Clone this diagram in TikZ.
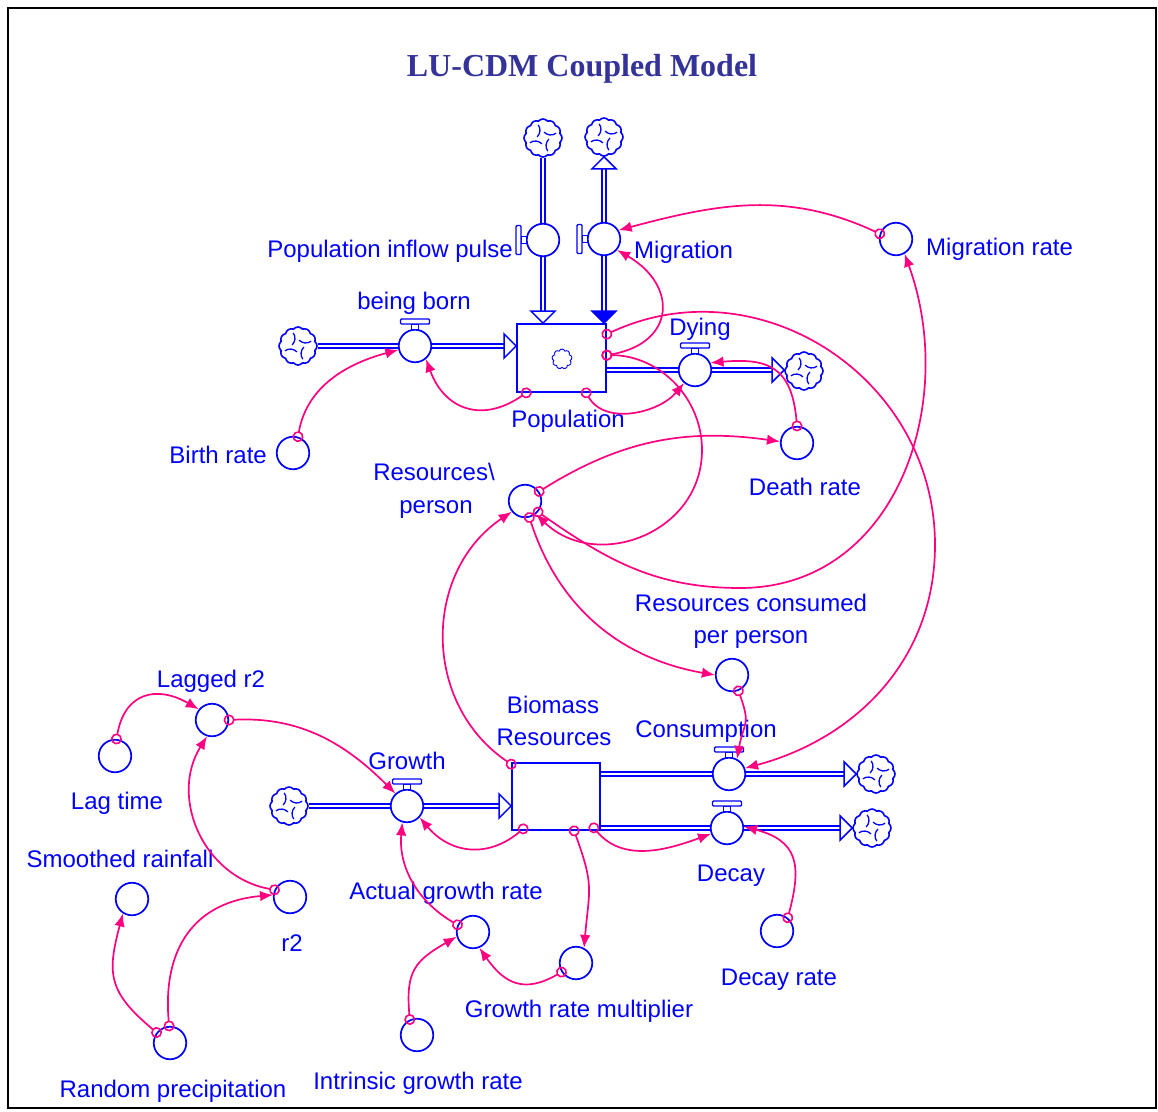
\documentclass[tikz,border=0pt]{standalone}
\usepackage{fontspec}
\setmainfont{Liberation Sans}
\newfontfamily\titlefont{Liberation Serif}
\usetikzlibrary{arrows.meta,shapes.symbols,calc,backgrounds}
\definecolor{vblue}{RGB}{0,0,255}
\definecolor{vpink}{RGB}{255,0,128}
\definecolor{vtitle}{RGB}{51,51,153}
\newcommand\phead[3][white]{\draw[pipehd, fill=#1, shift={(#2)}, rotate=#3] (0,0) -- (-12,12) -- (-12,-12) -- cycle;}
\newcommand\hhandle[1]{%
  \draw[handle] ([shift={(-3.5,-22)}]#1.center) rectangle ([shift={(3.5,-16.5)}]#1.center);
  \draw[handle, rounded corners=1pt] ([shift={(-14.5,-27)}]#1.center) rectangle ([shift={(14.5,-22)}]#1.center);}
\newcommand\vhandle[1]{%
  \draw[handle] ([shift={(-22,-3.5)}]#1.center) rectangle ([shift={(-16.5,3.5)}]#1.center);
  \draw[handle, rounded corners=1pt] ([shift={(-27,-14.5)}]#1.center) rectangle ([shift={(-22,14.5)}]#1.center);}
\newcommand\cloudnode[2]{%
  \node[cloudy] (#1) at (#2) {};
  \foreach \a in {20,110,200,290}{\draw[vblue,line width=1.3pt] ($(#1.center)+(\a:14pt)$) to[bend left=40] ($(#1.center)+(\a+60:6pt)$);}}
\begin{document}
\begin{tikzpicture}[x=1pt,y=-1pt,
  lbl/.style={text=vblue, font=\fontsize{24}{28}\selectfont, inner sep=0pt, anchor=base},
  aux/.style={circle, draw=vblue, line width=1.7pt, fill=white, minimum size=32.5pt, inner sep=0pt},
  valve/.style={aux},
  stock/.style={rectangle, draw=vblue, line width=1.7pt, fill=white, inner sep=0pt},
  cloudy/.style={cloud, cloud puffs=12, cloud puff arc=100, aspect=1, draw=vblue, line width=1.6pt, fill=white, inner sep=0pt, minimum size=38pt},
  pipe/.style={draw=vblue, double=white, double distance=2.5pt, line width=1.5pt},
  pipehd/.style={draw=vblue, line width=1.5pt, line join=miter},
  handle/.style={draw=vblue, fill=white, line width=1.4pt},
  conn/.style={draw=vpink, line width=1.7pt, arrows={Circle[open,length=11pt,width=11pt,line width=1.6pt]-Latex[length=13pt,width=10.5pt]}, shorten <=-5.5pt},
]
\useasboundingbox (0,0) rectangle (1158,1111);
\draw[line width=1.5pt] (8,8) rectangle (1156,1108);
\node[text=vtitle, font=\titlefont\bfseries\fontsize{32}{36}\selectfont, anchor=base, inner sep=0pt] (title) at (582,76) {LU-CDM Coupled Model};

% stocks
\node[stock, minimum width=89pt, minimum height=68pt] (pop) at (561.5,358) {};
\node[draw=vblue, cloud, cloud puffs=9, aspect=1, minimum size=20pt, inner sep=0pt, line width=0.9pt] (popicon) at (562,359) {};
\node[stock, minimum width=88pt, minimum height=67pt] (bio) at (556,796.5) {};

% valves
\node[valve] (inflow) at (543,240) {};
\node[valve] (mig) at (604,239) {};
\node[valve] (born) at (415,346) {};
\node[valve] (dying) at (695,370) {};
\node[valve] (growth) at (407,806) {};
\node[valve] (cons) at (729,774) {};
\node[valve] (decay) at (727,828) {};
\vhandle{inflow}
\vhandle{mig}
\hhandle{born}
\hhandle{dying}
\hhandle{growth}
\hhandle{cons}
\hhandle{decay}

% auxiliaries
\node[aux] (migrate) at (896,239) {};
\node[aux] (birthrate) at (293,453) {};
\node[aux] (deathrate) at (797,443) {};
\node[aux] (rpp) at (525,501) {};
\node[aux] (rcpp) at (732,675) {};
\node[aux] (lagr2) at (212,720) {};
\node[aux] (lagtime) at (115,756) {};
\node[aux] (smooth) at (132,899) {};
\node[aux] (r2) at (290,897) {};
\node[aux] (randp) at (170,1043) {};
\node[aux] (agr) at (473,932) {};
\node[aux] (grm) at (576,963) {};
\node[aux] (igr) at (417,1035) {};
\node[aux] (decayrate) at (777,931) {};

% clouds
\cloudnode{cT1}{543,138}
\cloudnode{cT2}{604,137}
\cloudnode{cL}{298,346}
\cloudnode{cD}{804,371}
\cloudnode{cG}{289,806}
\cloudnode{cC}{876,774}
\cloudnode{cDe}{872,828}

% pipes
\coordinate (h1) at (inflow |- pop.north);
\coordinate (h2) at (mig |- pop.north);
\coordinate (h3) at (born -| pop.west);
\coordinate (h5) at (growth -| bio.west);
\begin{scope}[on background layer]
\draw[pipe, shorten >=11pt] (cT1.south) -- (inflow.center) -- (h1);
\draw[pipe, shorten >=11pt, shorten <=11pt] (h2) -- (mig.center) -- (cT2.south);
\draw[pipe, shorten >=11pt] (cL.east) -- (born.center) -- (h3);
\draw[pipe, shorten >=11pt] (dying -| pop.east) -- (dying.center) -- (dying -| cD.west);
\draw[pipe, shorten >=11pt] (cG.east) -- (growth.center) -- (h5);
\draw[pipe, shorten >=11pt] (cons -| bio.east) -- (cons.center) -- (cC.west);
\draw[pipe, shorten >=11pt] (decay -| bio.east) -- (decay.center) -- (cDe.west);
\end{scope}
\phead{h1}{-90}
\phead[vblue]{h2}{-90}
\phead{cT2.south}{90}
\phead{h3}{0}
\phead{dying -| cD.west}{0}
\phead{h5}{0}
\phead{cC.west}{0}
\phead{cDe.west}{0}

% labels
\node[lbl, anchor=base east] (l-inflow) at (513,257) {Population inflow pulse};
\node[lbl, anchor=base west] (l-mig) at (634,258) {Migration};
\node[lbl, anchor=base west] (l-migrate) at (926,255) {Migration rate};
\node[lbl] (l-born) at (414,309) {being born};
\node[lbl] (l-dying) at (700,335) {Dying};
\node[lbl] (l-pop) at (568,427) {Population};
\node[lbl, anchor=base east] (l-birth) at (267,463) {Birth rate};
\node[lbl] (l-death) at (805,495) {Death rate};
\node[lbl] (l-rpp1) at (434,480) {Resources\textbackslash};
\node[lbl] (l-rpp2) at (436,513) {person};
\node[lbl] (l-rcpp1) at (751,611) {Resources consumed};
\node[lbl] (l-rcpp2) at (751,643) {per person};
\node[lbl] (l-bio1) at (553,713) {Biomass};
\node[lbl] (l-bio2) at (554,745) {Resources};
\node[lbl] (l-cons) at (706,737) {Consumption};
\node[lbl] (l-growth) at (407,769) {Growth};
\node[lbl] (l-decay) at (731,881) {Decay};
\node[lbl] (l-decayrate) at (779,985) {Decay rate};
\node[lbl] (l-lagr2) at (211,687) {Lagged r2};
\node[lbl] (l-lagtime) at (117,809) {Lag time};
\node[lbl] (l-smooth) at (120,867) {Smoothed rainfall};
\node[lbl] (l-r2) at (292,951) {r2};
\node[lbl] (l-agr) at (446,899) {Actual growth rate};
\node[lbl] (l-grm) at (579,1017) {Growth rate multiplier};
\node[lbl] (l-igr) at (418,1089) {Intrinsic growth rate};
\node[lbl] (l-randp) at (173,1097) {Random precipitation};

% connectors
\coordinate (m5) at (935,545);
\coordinate (m7) at (702,450);
\coordinate (m8) at (740,588);
\draw[conn] (birthrate.73) to[out=80,in=195] (born.193);
\draw[conn] ($(pop.south west)+(10,0)$) to[out=-145,in=-70,looseness=1.3] (born.-50);
\draw[conn] ($(pop.south west)+(70,0)$) to[out=-60,in=-130] (dying.-130);
\draw[conn] (deathrate.90) to[out=95,in=5,looseness=1.4] (dying.25);
\draw[conn] ($(pop.north east)+(0,11)$) to[out=25,in=90,looseness=1.1] (m5) to[out=-90,in=15,looseness=1] (cons.20);
\draw[conn] ($(pop.north east)+(0,32)$) to[out=10,in=-30,looseness=1.7] (mig.-40);
\draw[conn] ($(pop.north east)+(0,32)$) to[out=0,in=90] (m7) to[out=-90,in=-44,looseness=1.2] (rpp.-50);
\draw[conn] (migrate.162) to[out=155,in=15] (mig.31);
\draw[conn] (rpp.-40) to[out=-35,in=180] (m8) to[out=0,in=-70,looseness=1.08] (migrate.-60);
\draw[conn] (rpp.34) to[out=32,in=172] (deathrate.175);
\draw[conn] (rpp.-75) to[out=-72,in=170] (rcpp.180);
\draw[conn] ($(bio.north west)+(0,2)$) to[out=146,in=214,looseness=1.09] (rpp.219);
\draw[conn] ($(bio.south west)+(12,-2)$) to[out=-140,in=-50,looseness=1.15] (growth.-42);
\draw[conn] ($(bio.south west)+(63,0)$) to[out=-70,in=85,looseness=1.3] (grm.62);
\draw[conn] ($(bio.south east)+(-7,-3)$) to[out=-50,in=200] (decay.200);
\draw[conn] (decayrate.51) to[out=75,in=-15,looseness=1.4] (decay.5);
\draw[conn] (rcpp.-68) to[out=-70,in=80,looseness=1.4] (cons.62);
\draw[conn] (lagr2.0) to[out=3,in=135] (growth.133);
\draw[conn] (lagtime.85) to[out=80,in=150,looseness=1.4] (lagr2.141);
\draw[conn] (r2.155) to[out=170,in=-122,looseness=1.1] (lagr2.-107);
\draw[conn] (randp.142) to[out=140,in=-105,looseness=1.3] (smooth.-122);
\draw[conn] (randp.93) to[out=95,in=185,looseness=1.2] (r2.173);
\draw[conn] (agr.155) to[out=150,in=-95] (growth.-106);
\draw[conn] (igr.115) to[out=95,in=210,looseness=1.3] (agr.196);
\draw[conn] (grm.212) to[out=210,in=-55,looseness=1.3] (agr.-68);
\end{tikzpicture}
\end{document}
